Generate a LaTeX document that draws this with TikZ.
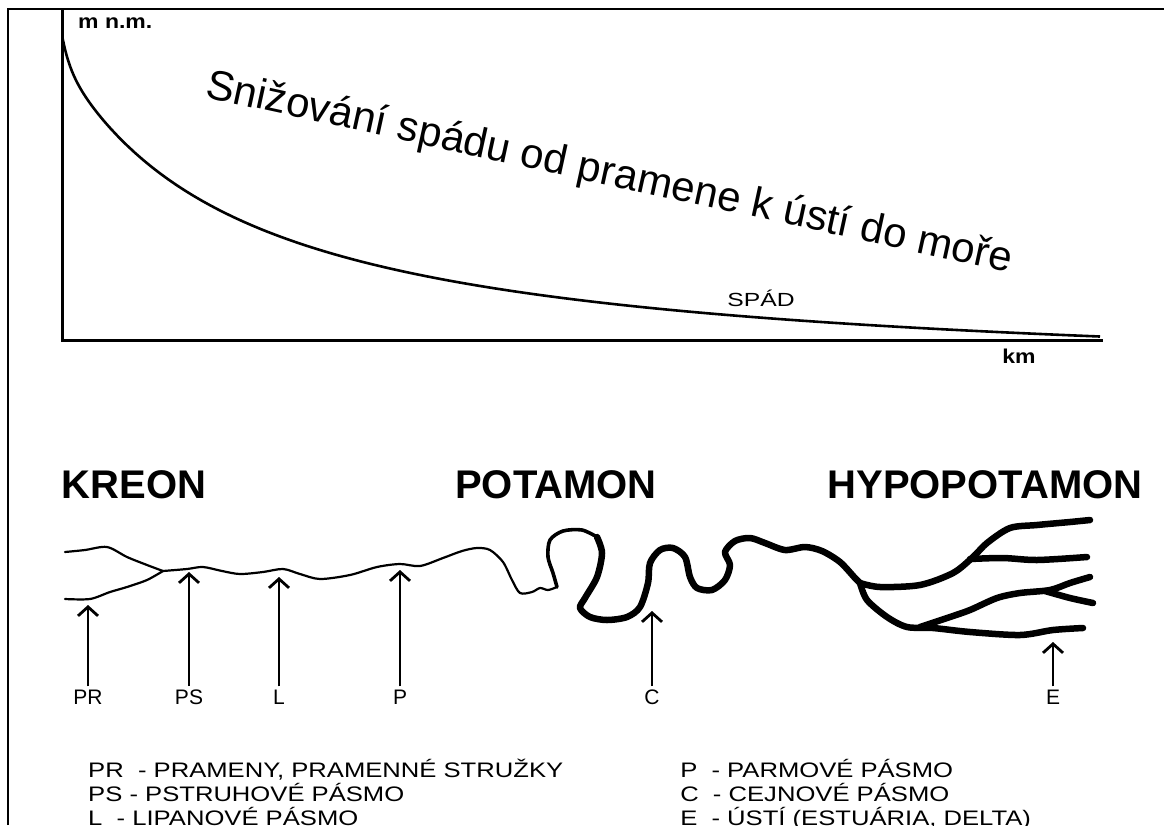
\documentclass[tikz,border=0pt]{standalone}
\usepackage{fontspec}
\setmainfont{Liberation Sans}
\usetikzlibrary{arrows.meta}
\tikzstyle{axisline} = [line width=3pt]
\tikzstyle{axislabel} = [font=\fontsize{20}{20}\selectfont\bfseries, inner sep=0pt, xscale=1.15, transform shape]
\tikzstyle{zonetitle} = [font=\fontsize{40}{40}\selectfont\bfseries]
\tikzstyle{zonelabel} = [font=\fontsize{21}{21}\selectfont]
\tikzstyle{zonearrow} = [line width=2.8pt, -{Straight Barb[length=9pt,width=20pt]}]
\tikzstyle{legend} = [font=\fontsize{21}{21}\selectfont, anchor=base west, inner sep=0pt, xscale=1.22, transform shape]
\tikzstyle{riverthin} = [line width=2.2pt, line cap=round, line join=round]
\tikzstyle{rivermid} = [line width=3.6pt, line cap=round, line join=round]
\tikzstyle{riverthick} = [line width=6.5pt, line cap=round, line join=round]
\begin{document}
\begin{tikzpicture}[x=1pt,y=-1pt]
	\useasboundingbox (0,0) rectangle (1164,825);
	\draw[line width=2pt] (8,825) -- (8,9) -- (1164,9);
	% graf spadu
	\coordinate (top) at (62,10);
	\coordinate (origin) at (62,340);
	\coordinate (end) at (1103,340);
	\draw[axisline] (top) -- (origin) -- (end);
	\node[axislabel, anchor=west] (mnm) at (78,23) {m n.m.};
	\node[axislabel] (km) at (1019,356) {km};
	\draw[line width=2.6pt] plot[domain=62.5:110, samples=60] (\x, {340 - 601.73/((\x+123.4)/100) + 45.7 - 26*exp(-(\x-62)/7.2)})
		-- plot[domain=110:1100, samples=120] (\x, {340 - 601.73/((\x+123.4)/100) + 45.7});
	\node[font=\fontsize{19}{19}\selectfont, inner sep=0pt, xscale=1.3, transform shape] (spad) at (761,298) {SPÁD};
	\node[font=\fontsize{42}{42}\selectfont, anchor=base west, rotate=-12.3, inner sep=0pt] (nadpis) at (204,97) {Snižování spádu od pramene k ústí do moře};
	% pasma
	\node[zonetitle] (kreon) at (134,485) {KREON};
	\node[zonetitle] (potamon) at (556,485) {POTAMON};
	\node[zonetitle] (hypopotamon) at (985,485) {HYPOPOTAMON};
	% reka
	\draw[riverthin] plot[smooth] coordinates {(65,552) (85,550) (107,547) (127,557) (147,565) (163,571)};
	\draw[riverthin] plot[smooth] coordinates {(65,599) (90,599) (110,592) (127,587) (147,580) (163,571)};
	\draw[riverthin] plot[smooth] coordinates {(163,571) (187,569) (203,567) (222,571) (240,574) (263,572) (283,569) (300,574) (320,579) (350,575) (377,567) (400,564) (420,566) (443,558) (462,551) (477,548) (490,550) (503,562) (512,580) (520,593) (532,592) (540,588) (548,590) (557,587)};
	\draw[rivermid] plot[smooth] coordinates {(557,587) (553,573) (548,557) (550,540) (563,531) (582,530) (597,537)};
	\draw[riverthick] plot[smooth] coordinates {(597,537) (602,553) (597,577) (585,598) (580,608) (590,617) (607,620) (627,617) (640,607) (648,583) (650,563) (660,550) (673,548) (685,557) (690,577) (697,588) (712,590) (725,580) (730,565) (725,552) (735,541) (750,538) (765,543) (785,550) (805,547) (822,551) (840,562) (855,578) (862,585)};
	\draw[riverthick] plot[smooth] coordinates {(860,583) (880,587) (920,585) (953,573) (973,557) (987,543) (1010,528) (1037,525) (1070,522) (1090,520)};
	\draw[riverthick] plot[smooth] coordinates {(970,559) (1003,558) (1037,560) (1087,557)};
	\draw[riverthick] plot[smooth] coordinates {(860,583) (867,600) (887,617) (907,627) (933,628) (970,632) (1020,635) (1053,630) (1083,628)};
	\draw[riverthick] plot[smooth] coordinates {(920,627) (950,617) (970,610) (997,598) (1020,593) (1050,590) (1070,583) (1090,577)};
	\draw[riverthick] plot[smooth] coordinates {(1045,591) (1070,598) (1093,603)};
	% sipky
	\coordinate (tPR) at (88,605);
	\coordinate (tPS) at (189,572);
	\coordinate (tL) at (279,577);
	\coordinate (tP) at (400,570);
	\coordinate (tC) at (652,611);
	\coordinate (tE) at (1053,642);
	\node[zonelabel] (lPR) at (88,697) {PR};
	\node[zonelabel] (lPS) at (189,697) {PS};
	\node[zonelabel] (lL) at (279,697) {L};
	\node[zonelabel] (lP) at (400,697) {P};
	\node[zonelabel] (lC) at (652,697) {C};
	\node[zonelabel] (lE) at (1053,697) {E};
	\foreach \z in {PR,PS,L,P,C,E}
		\draw[zonearrow] (l\z.north) -- (t\z);
	% legenda
	\node[legend] (legPR) at (88,777) {PR\ \ - PRAMENY, PRAMENNÉ STRUŽKY};
	\node[legend] (legPS) at (88,801) {PS - PSTRUHOVÉ PÁSMO};
	\node[legend] (legL) at (88,825) {L\ \ - LIPANOVÉ PÁSMO};
	\node[legend] (legP) at (680,777) {P\ \ - PARMOVÉ PÁSMO};
	\node[legend] (legC) at (680,801) {C\ \ - CEJNOVÉ PÁSMO};
	\node[legend] (legE) at (680,825) {E\ \ - ÚSTÍ (ESTUÁRIA, DELTA)};
\end{tikzpicture}
\end{document}
